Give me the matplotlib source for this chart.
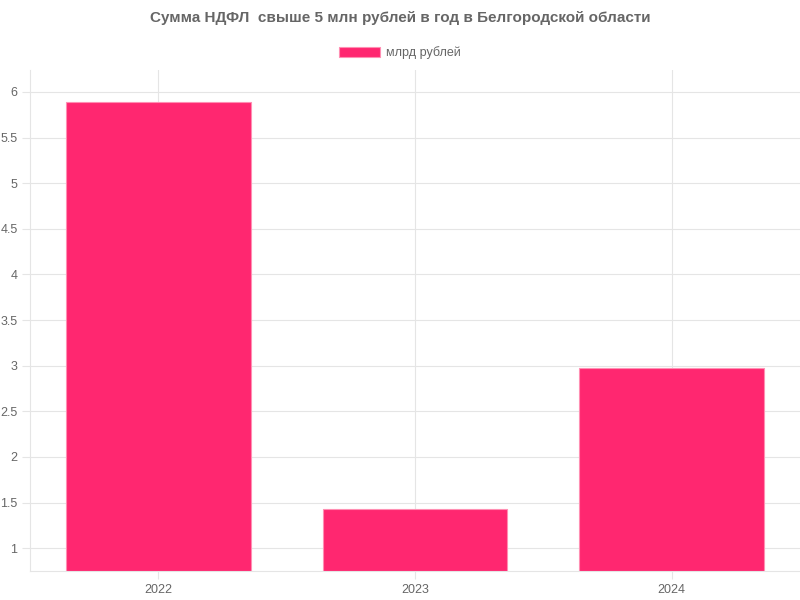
import numpy as np
import matplotlib
matplotlib.use('Agg')
import matplotlib.pyplot as plt
from matplotlib.patches import Patch

years = ['2022', '2023', '2024']
values = [5.89, 1.43, 2.97]
series_label = 'млрд рублей'
title = 'Сумма НДФЛ  свыше 5 млн рублей в год в Белгородской области'

bar_color = '#ff2770'
edge_color = '#ff8fb3'
text_color = '#666666'
grid_color = '#e5e5e5'

plt.rcParams['font.family'] = ['Liberation Sans', 'DejaVu Sans']

fig = plt.figure(figsize=(8, 6), dpi=100)
ax = fig.add_axes([0.0375, 0.0483, 0.9625, 0.835])

ind = np.arange(len(years))
ax.bar(ind, values, width=0.72, bottom=0, color=bar_color,
       edgecolor=edge_color, linewidth=0.8, zorder=2)

ax.set_xlim(-0.5, 2.5)
ax.set_ylim(0.75, 6.24)
ax.set_yticks([1, 1.5, 2, 2.5, 3, 3.5, 4, 4.5, 5, 5.5, 6])
ax.set_yticklabels(['1', '1.5', '2', '2.5', '3', '3.5', '4', '4.5', '5', '5.5', '6'])
ax.set_xticks(ind)
ax.set_xticklabels(years)

ax.grid(True, color=grid_color, linewidth=0.8, zorder=0)
ax.tick_params(axis='both', colors=grid_color, labelcolor=text_color,
               labelsize=9, length=6, width=0.8)
ax.tick_params(axis='y', pad=3)
ax.tick_params(axis='x', pad=3)
for side in ['top', 'right']:
    ax.spines[side].set_visible(False)
for side in ['left', 'bottom']:
    ax.spines[side].set_color(grid_color)
    ax.spines[side].set_linewidth(0.8)

fig.text(0.5, 0.97, title, ha='center', va='center', fontsize=11,
         fontweight='bold', color=text_color)

handle = Patch(facecolor=bar_color, edgecolor=edge_color, linewidth=0.8)
fig.legend([handle], [series_label], loc='center', bbox_to_anchor=(0.5, 0.912),
           frameon=False, fontsize=9, labelcolor=text_color,
           handlelength=3.3, handleheight=0.9, handletextpad=0.5)

fig.savefig('out.png', dpi=100)
